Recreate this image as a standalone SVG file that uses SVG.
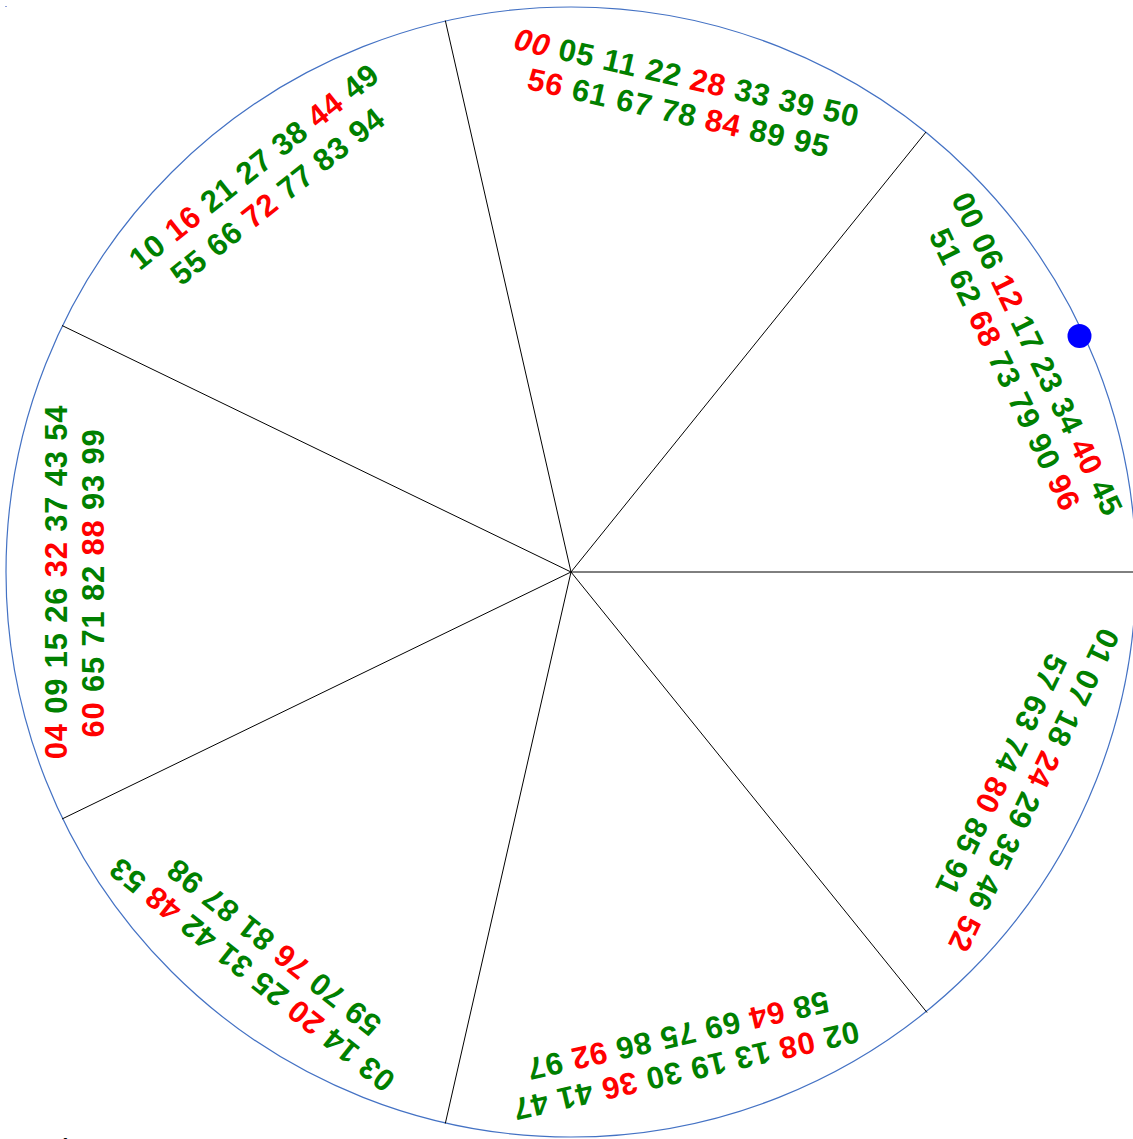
<svg xmlns="http://www.w3.org/2000/svg" width="1133" height="1139" viewBox="0 0 1133 1139">
<style>
.t{font-family:"Liberation Sans",Arial,sans-serif;font-weight:bold;font-size:31px;fill:#008000;text-anchor:middle;letter-spacing:0.8px}
.r{fill:#FF0000}
.ln{stroke:#000;stroke-width:1;fill:none}
</style>
<rect width="1133" height="1139" fill="#fff"/>
<rect x="5" y="6" width="2" height="1" fill="#8fa0d8"/>
<circle id="rim" cx="571" cy="572" r="565" fill="none" stroke="#4472C4" stroke-width="1.2"/>
<g id="dividers">
<line class="ln" x1="571" y1="572" x2="1136" y2="572"/>
<line class="ln" x1="571" y1="572" x2="926" y2="132"/>
<line class="ln" x1="571" y1="572" x2="445.3" y2="20.5"/>
<line class="ln" x1="571" y1="572" x2="62" y2="325.5"/>
<line class="ln" x1="571" y1="572" x2="62" y2="819"/>
<line class="ln" x1="571" y1="572" x2="445.3" y2="1123.5"/>
<line class="ln" x1="571" y1="572" x2="927" y2="1012.5"/>
</g>
<g id="sector-top" transform="rotate(12.857 571 572)">
<text class="t" x="574" y="75"><tspan class="r" font-style="italic">00</tspan> 05 11 22 <tspan class="r">28</tspan> 33 39 50</text>
<text class="t" x="574" y="111"><tspan class="r">56</tspan> 61 67 78 <tspan class="r">84</tspan> 89 95</text>
</g>
<g id="sector-upper-right" transform="rotate(64.286 571 572)">
<text class="t" x="577" y="68">00 06 <tspan class="r">12</tspan> 17 23 34 <tspan class="r">40</tspan> 45</text>
<text class="t" x="577" y="104">51 62 <tspan class="r">68</tspan> 73 79 90 <tspan class="r">96</tspan></text>
</g>
<g id="sector-lower-right" transform="rotate(115.714 571 572)">
<text class="t" x="567" y="71">01 07 18 <tspan class="r">24</tspan> 29 35 46 <tspan class="r">52</tspan></text>
<text class="t" x="567" y="107">57 63 74 <tspan class="r">80</tspan> 85 91</text>
</g>
<g id="sector-bottom" transform="rotate(167.143 571 572)">
<text class="t" x="570" y="71">02 <tspan class="r">08</tspan> 13 19 30 <tspan class="r">36</tspan> 41 47</text>
<text class="t" x="570" y="107">58 <tspan class="r">64</tspan> 69 75 86 <tspan class="r">92</tspan> 97</text>
</g>
<g id="sector-lower-left" transform="rotate(218.571 571 572)">
<text class="t" x="569.5" y="69">03 14 <tspan class="r">20</tspan> 25 31 42 <tspan class="r">48</tspan> 53</text>
<text class="t" x="569.5" y="104">59 70 <tspan class="r">76</tspan> 81 87 98</text>
</g>
<g id="sector-left" transform="rotate(270 571 572)">
<text class="t" x="561" y="68"><tspan class="r">04</tspan> 09 15 26 <tspan class="r">32</tspan> 37 43 54</text>
<text class="t" x="560" y="105"><tspan class="r">60</tspan> 65 71 82 <tspan class="r">88</tspan> 93 99</text>
</g>
<g id="sector-upper-left" transform="rotate(-38.571 571 572)">
<text class="t" x="576" y="68">10 <tspan class="r">16</tspan> 21 27 38 <tspan class="r">44</tspan> 49</text>
<text class="t" x="576" y="106">55 66 <tspan class="r">72</tspan> 77 83 94</text>
</g>
<circle id="marker-dot" cx="1079.5" cy="336" r="12" fill="#0000FF"/>
<text x="57" y="1156" font-family="Liberation Sans, Arial, sans-serif" font-weight="bold" font-size="20" fill="#000">É</text>
</svg>
